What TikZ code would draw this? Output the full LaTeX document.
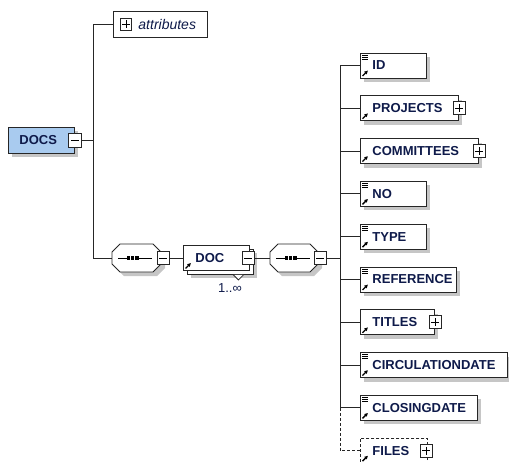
\documentclass[tikz,border=0pt]{standalone}
\usepackage{fontspec}
\setmainfont{Liberation Sans}
\usetikzlibrary{shadows,arrows.meta,calc}
\definecolor{navy}{HTML}{0E1A4A}
\definecolor{docsblue}{HTML}{A9CBEF}
\definecolor{shadowgray}{HTML}{C6C6C6}
\definecolor{edge}{HTML}{262626}
\newcommand{\refarrow}[1]{\draw[-{Latex[length=3.6pt,width=4pt]},line width=1.3pt,black] ($(#1.south west)+(2.5,-2.5)$) -- ($(#1.south west)+(8,-8)$);}
\newcommand{\simpleicon}[1]{\draw[line width=0.7pt,black] ($(#1.north west)+(2,2.5)$) -- +(5.5,0) ($(#1.north west)+(2,4.5)$) -- +(5.5,0) ($(#1.north west)+(2,6.5)$) -- +(5.5,0);}
\tikzset{
  conn/.style={draw=edge,line width=0.9pt},
  sh/.style={drop shadow={shadow xshift=4pt,shadow yshift=-4pt,fill=shadowgray,opacity=1}},
  elem/.style={draw=edge,fill=white,line width=0.9pt,rectangle,anchor=west,
    minimum height=25pt,inner xsep=0pt,inner ysep=0pt,text width=#1,align=left,
    text=navy,font=\bfseries\fontsize{13}{15}\selectfont},
  pm/.style={draw=edge,fill=white,line width=0.8pt,rectangle,minimum width=12pt,
    minimum height=13pt,inner sep=0pt},
  plusbox/.style={pm,path picture={\draw[black,line width=0.8pt]
    ($(path picture bounding box.center)+(-4,0)$) -- +(8,0)
    ($(path picture bounding box.center)+(0,-4)$) -- +(0,8);}},
  minusbox/.style={pm,path picture={\draw[black,line width=0.8pt]
    ($(path picture bounding box.center)+(-4,0)$) -- +(8,0);}},
  anchorbox/.style={rectangle,minimum width=#1,minimum height=28pt,inner sep=0pt},
  octa/.style={draw=edge,fill=white,line width=0.9pt,sh},
  optdash/.style={dash pattern=on 3pt off 2pt}
}
\begin{document}
\begin{tikzpicture}[x=1pt,y=-1pt]
\useasboundingbox (0,0) rectangle (509,461);
\coordinate (spa) at (93,0);
\coordinate (spx) at (340,0);

% root
\node[elem=66pt,fill=docsblue,sh,minimum height=26pt] (docs) at (8,140) {\hspace*{11pt}DOCS};
\node[minusbox,minimum width=13pt,minimum height=14pt] (mdocs) at (docs.east) {};

% attributes
\node[elem=94pt,minimum height=26pt,font=\itshape\fontsize{14}{16}\selectfont] (attr) at (113,24) {\hspace*{25pt}attributes};
\node[plusbox,minimum width=11pt,minimum height=12pt] (pattr) at (126,24) {};

% first sequence
\node[anchorbox=49pt] (seq1) at (136.5,258) {};
\draw[octa,shift={(seq1.center)}] (-24.5,-6) -- (-16.5,-14) -- (16.5,-14) -- (24.5,-6) -- (24.5,6) -- (16.5,14) -- (-16.5,14) -- (-24.5,6) -- cycle;
\draw[black,line width=0.9pt,shift={(seq1.center)}] (-18.5,0) -- (15.5,0);
\fill[black,shift={(seq1.center)}] (-10,-2) rectangle (2,2);
\draw[white,line width=0.6pt,shift={(seq1.center)}] (-6,-2.2) -- (-6,2.2) (-2,-2.2) -- (-2,2.2);
\node[minusbox] (mseq1) at (163,258) {};

% DOC (repeated element)
\node[elem=66pt,sh] (docback) at (186.5,261.5) {};
\node[elem=66pt] (doc) at (183,258) {\hspace*{12pt}DOC};
\refarrow{doc}
\node[minusbox] (mdoc) at (248,258) {};
\fill[white] ($(docback.south east)+(-20.5,0.5)$) -- ($(docback.south east)+(-9.5,0.5)$) -- ($(docback.south east)+(-15,5.5)$) -- cycle;
\draw[edge,line width=0.8pt] ($(docback.south east)+(-20.5,0)$) -- ($(docback.south east)+(-15,5.5)$) -- ($(docback.south east)+(-9.5,0)$);
\node[text=navy,font=\fontsize{13}{15}\selectfont,inner sep=0pt] (mult) at (230,288) {1..∞};

% second sequence
\node[anchorbox=48pt] (seq2) at (294,258) {};
\draw[octa,shift={(seq2.center)}] (-24,-6) -- (-16,-14) -- (16,-14) -- (24,-6) -- (24,6) -- (16,14) -- (-16,14) -- (-24,6) -- cycle;
\draw[black,line width=0.9pt,shift={(seq2.center)}] (-18,0) -- (16,0);
\fill[black,shift={(seq2.center)}] (-9.5,-2) rectangle (2.5,2);
\draw[white,line width=0.6pt,shift={(seq2.center)}] (-5.5,-2.2) -- (-5.5,2.2) (-1.5,-2.2) -- (-1.5,2.2);
\node[minusbox] (mseq2) at (320,258) {};

% child elements
\node[elem=66pt,sh] (eid) at (360,65.5) {\hspace*{12pt}ID};
\node[elem=98pt,sh] (eproj) at (360,108.3) {\hspace*{12pt}PROJECTS};
\node[plusbox] (pproj) at (eproj.east) {};
\node[elem=118pt,sh] (ecomm) at (360,151.1) {\hspace*{12pt}COMMITTEES};
\node[plusbox] (pcomm) at (ecomm.east) {};
\node[elem=66pt,sh] (eno) at (360,193.9) {\hspace*{12pt}NO};
\node[elem=66pt,sh] (etype) at (360,236.7) {\hspace*{12pt}TYPE};
\node[elem=96pt,sh] (eref) at (360,279.5) {\hspace*{12pt}REFERENCE};
\node[elem=74pt,sh] (etitles) at (360,322.3) {\hspace*{12pt}TITLES};
\node[plusbox] (ptitles) at (etitles.east) {};
\node[elem=147pt,sh] (ecirc) at (360,365.1) {\hspace*{12pt}CIRCULATIONDATE};
\node[elem=117pt,sh] (eclos) at (360,407.9) {\hspace*{12pt}CLOSINGDATE};
\node[elem=67pt,optdash] (efiles) at (360,450.7) {\hspace*{12pt}FILES};
\node[plusbox] (pfiles) at ($(efiles.east)+(-1.5,0)$) {};

\foreach \n in {eid,eno,etype,eref,ecirc,eclos}{\simpleicon{\n}}
\foreach \n in {eid,eproj,ecomm,eno,etype,eref,etitles,ecirc,eclos,efiles}{\refarrow{\n}}

% connectors
\draw[conn] (mdocs.east) -- (mdocs.east -| spa);
\draw[conn] (attr.west -| spa) -- (seq1.west -| spa);
\draw[conn] (attr.west -| spa) -- (attr.west);
\draw[conn] (seq1.west -| spa) -- (seq1.west);
\draw[conn] (mseq1.east) -- (doc.west);
\draw[conn] (mdoc.east) -- (seq2.west);
\draw[conn] (mseq2.east) -- (mseq2.east -| spx);
\draw[conn] (eid.west -| spx) -- (eclos.west -| spx);
\foreach \n in {eid,eproj,ecomm,eno,etype,eref,etitles,ecirc,eclos}{
  \draw[conn] (\n.west -| spx) -- (\n.west);
}
\draw[conn,optdash] (eclos.west -| spx) -- (efiles.west -| spx) -- (efiles.west);
\end{tikzpicture}
\end{document}
